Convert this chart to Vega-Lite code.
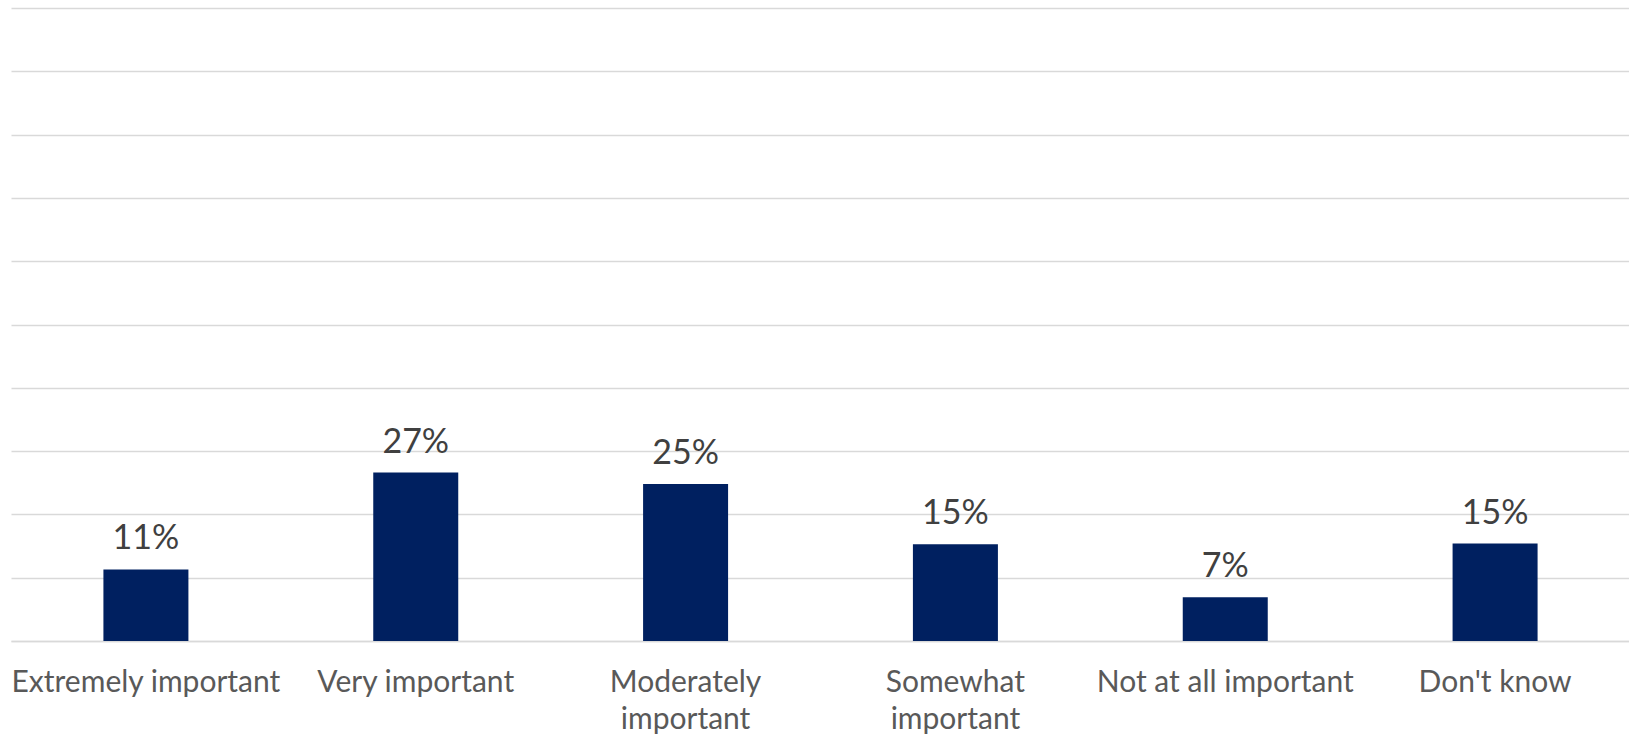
{
  "$schema": "https://vega.github.io/schema/vega-lite/v6.json",
  "width": 1619,
  "height": 633,
  "autosize": {"type": "none"},
  "padding": {"left": 11, "top": 8, "right": 0, "bottom": 97},
  "background": "white",
  "config": {"view": {"stroke": null}, "font": "Lato"},
  "data": {
    "values": [
      {"category": "Extremely important", "share": 0.113},
      {"category": "Very important", "share": 0.266},
      {"category": "Moderately important", "share": 0.248},
      {"category": "Somewhat important", "share": 0.153},
      {"category": "Not at all important", "share": 0.069},
      {"category": "Don't know", "share": 0.154}
    ]
  },
  "encoding": {
    "x": {
      "field": "category",
      "type": "nominal",
      "sort": null,
      "scale": {"paddingInner": 0.685, "paddingOuter": 0.3425},
      "axis": {
        "title": null,
        "ticks": false,
        "domainColor": "#D9D9D9",
        "domainWidth": 1.5,
        "labelAngle": 0,
        "labelFont": "Lato",
        "labelFontSize": 30,
        "labelColor": "#595959",
        "labelPadding": 26,
        "labelLineHeight": 37,
        "labelBaseline": "top",
        "labelLimit": 400,
        "labelExpr": "datum.value == 'Moderately important' ? ['Moderately', 'important'] : datum.value == 'Somewhat important' ? ['Somewhat', 'important'] : datum.value"
      }
    },
    "y": {
      "field": "share",
      "type": "quantitative",
      "scale": {"domain": [0, 1], "nice": false},
      "axis": {
        "title": null,
        "labels": false,
        "ticks": false,
        "domain": false,
        "grid": true,
        "gridColor": "#D9D9D9",
        "gridWidth": 1.5,
        "values": [0, 0.1, 0.2, 0.3, 0.4, 0.5, 0.6, 0.7, 0.8, 0.9, 1.0]
      }
    }
  },
  "layer": [
    {"mark": {"type": "bar", "color": "#002060"}},
    {
      "mark": {"type": "text", "baseline": "alphabetic", "dy": -20, "font": "Lato", "fontSize": 34, "color": "#404040"},
      "encoding": {"text": {"field": "share", "type": "quantitative", "format": ".0%"}}
    }
  ]
}
